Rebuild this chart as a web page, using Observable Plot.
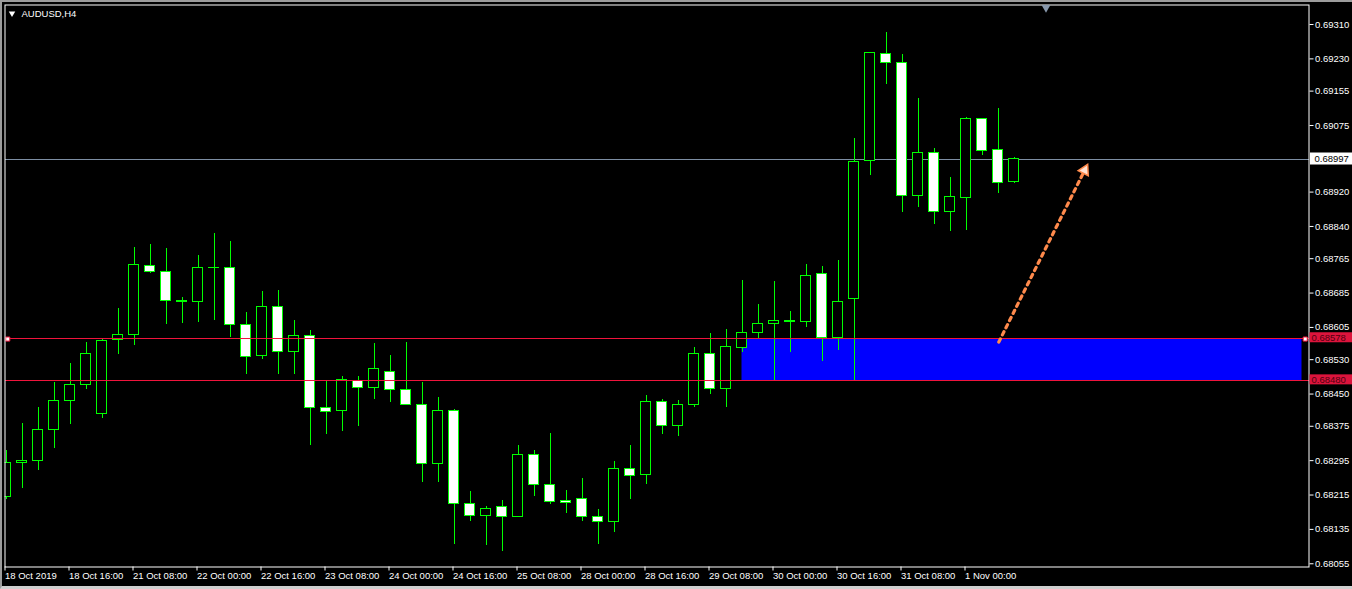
<!DOCTYPE html>
<html><head><meta charset="utf-8">
<script src="https://cdn.jsdelivr.net/npm/d3@7"></script>
<script src="https://cdn.jsdelivr.net/npm/@observablehq/plot@0.6"></script>
<style>
html,body{margin:0;padding:0;background:#000;}
#wrap{position:relative;width:1352px;height:589px;overflow:hidden;background:#000;}
#wrap svg{position:absolute;left:0;top:0;}
#border{position:absolute;left:0;top:0;width:1352px;height:589px;box-sizing:border-box;border-top:2px solid #9c9c9c;border-left:2px solid #9c9c9c;border-bottom:3px solid #cfcfcf;pointer-events:none;}
</style></head><body>
<div id="wrap"><div id="border"></div></div>
<script>
// AUDUSD H4 candles, 18 Oct 2019 00:00 onwards (bar index = position)
const opens = [0.68210,0.68290,0.68295,0.68367,0.68434,0.68472,0.68404,0.68576,0.68588,0.68749,
0.68735,0.68667,0.68665,0.68744,0.68744,0.68611,0.68539,0.68653,0.68548,0.68586,
0.68418,0.68411,0.68481,0.68465,0.68502,0.68460,0.68425,0.68288,0.68411,0.68195,
0.68167,0.68188,0.68164,0.68309,0.68239,0.68202,0.68206,0.68164,0.68153,0.68276,
0.68262,0.68432,0.68376,0.68425,0.68544,0.68462,0.68558,0.68593,0.68614,0.68620,
0.68618,0.68730,0.68580,0.68672,0.68993,0.69242,0.69221,0.68911,0.69011,0.68874,
0.68907,0.69091,0.69018,0.68944];
const highs = [0.68319,0.68381,0.68419,0.68476,0.68521,0.68570,0.68579,0.68649,0.68791,0.68798,
0.68789,0.68675,0.68772,0.68824,0.68805,0.68640,0.68689,0.68691,0.68621,0.68598,
0.68480,0.68491,0.68491,0.68568,0.68540,0.68570,0.68476,0.68442,0.68414,0.68223,
0.68188,0.68202,0.68330,0.68318,0.68358,0.68225,0.68253,0.68181,0.68292,0.68330,
0.68446,0.68437,0.68434,0.68558,0.68590,0.68600,0.68714,0.68658,0.68712,0.68642,
0.68752,0.68747,0.68761,0.69045,0.69245,0.69291,0.69240,0.69138,0.69021,0.68954,
0.69094,0.69091,0.69115,0.69000];
const lows = [0.68204,0.68231,0.68273,0.68324,0.68378,0.68461,0.68394,0.68543,0.68563,0.68731,
0.68613,0.68615,0.68617,0.68620,0.68582,0.68496,0.68531,0.68496,0.68496,0.68331,
0.68357,0.68364,0.68375,0.68438,0.68431,0.68423,0.68243,0.68243,0.68101,0.68154,
0.68098,0.68084,0.68162,0.68211,0.68192,0.68171,0.68153,0.68099,0.68127,0.68205,
0.68239,0.68357,0.68351,0.68418,0.68448,0.68418,0.68547,0.68579,0.68482,0.68547,
0.68606,0.68526,0.68551,0.68482,0.68959,0.69171,0.68873,0.68885,0.68844,0.68828,
0.68831,0.69006,0.68917,0.68939];
const closes = [0.68290,0.68295,0.68367,0.68434,0.68472,0.68544,0.68574,0.68588,0.68751,0.68735,
0.68667,0.68665,0.68744,0.68743,0.68611,0.68537,0.68653,0.68548,0.68586,0.68418,
0.68409,0.68483,0.68465,0.68509,0.68460,0.68425,0.68288,0.68411,0.68195,0.68167,
0.68183,0.68164,0.68309,0.68239,0.68199,0.68197,0.68164,0.68153,0.68276,0.68260,
0.68432,0.68376,0.68425,0.68544,0.68462,0.68560,0.68593,0.68614,0.68621,0.68617,
0.68725,0.68580,0.68665,0.68990,0.69244,0.69221,0.68911,0.69011,0.68874,0.68909,
0.69091,0.69016,0.68942,0.68997];

const xTickBars = [0,4,8,12,16,20,24,28,32,36,40,44,48,52,56,60];
const xTickLabels = ["18 Oct 2019","18 Oct 16:00","21 Oct 08:00","22 Oct 00:00","22 Oct 16:00",
"23 Oct 08:00","24 Oct 00:00","24 Oct 16:00","25 Oct 08:00","28 Oct 00:00","28 Oct 16:00",
"29 Oct 08:00","30 Oct 00:00","30 Oct 16:00","31 Oct 08:00","1 Nov 00:00"];
const yTickLabels = ["0.69310","0.69230","0.69155","0.69075","0.68920","0.68840","0.68765","0.68685",
"0.68605","0.68530","0.68450","0.68375","0.68295","0.68215","0.68135","0.68055"];

const title = "AUDUSD,H4";
const bidPrice = 0.68997;
const levels = [0.68578, 0.68480];
const zone = [{bar1: 46, bar2: 81, low: 0.68480, high: 0.68578}];
const arrowPts = [{bar1: 62.05, p1: 0.68571, bar2: 67.5, p2: 0.68977}];
const selMarkers = [{bar: 0.11, price: 0.68578}, {bar: 81.2, price: 0.68578}];
const shiftBar = 65;

const candles = opens.map((o, i) => ({i, o, h: highs[i], l: lows[i], c: closes[i]}));
const xDomain = [-0.0625, 81.4375];
const yDomain = [0.680475, 0.693554];
const halfBody = 0.3125;
const levelColor = "#f0143c";

const font = "'Liberation Sans', Arial, sans-serif";

const chart = Plot.plot({
  width: 1352, height: 589,
  marginLeft: 4.5, marginRight: 43.5, marginTop: 4.5, marginBottom: 22.5,
  style: {background: "#000", color: "#fff", fontFamily: font, fontSize: "9.5px"},
  x: {type: "linear", domain: xDomain, axis: null},
  y: {type: "linear", domain: yDomain, axis: null},
  marks: [
    Plot.rect(zone, {x1: "bar1", x2: "bar2", y1: "low", y2: "high", fill: "#0000ff"}),
    Plot.ruleY([bidPrice], {stroke: "#7d8ea3", strokeWidth: 1, shapeRendering: "crispEdges"}),
    Plot.ruleX(candles, {x: "i", y1: "l", y2: "h", stroke: "#00ff00", strokeWidth: 1, shapeRendering: "crispEdges", clip: true}),
    Plot.rect(candles, {x1: d => d.i - halfBody, x2: d => d.i + halfBody, y1: "o", y2: "c",
      fill: d => d.c > d.o ? "#000000" : "#ffffff", stroke: "#00ff00", strokeWidth: 1,
      shapeRendering: "crispEdges", clip: true}),
    // horizontal level lines (thin filled bands spanning the frame)
    Plot.rect(levels, {y1: d => d, y2: d => d, fill: levelColor, insetTop: -0.6, insetBottom: -0.6, shapeRendering: "crispEdges"}),
    Plot.dot(selMarkers, {x: "bar", y: "price", symbol: "square", r: 2.3, fill: "#ffffff", stroke: levelColor, strokeWidth: 1}),
    Plot.link(arrowPts, {x1: "bar1", y1: "p1", x2: "bar2", y2: "p2", stroke: "#ff8a4c", strokeWidth: 3.2,
      strokeDasharray: "3.5,4.5", strokeLinecap: "round"}),
    Plot.dot(arrowPts, {x: d => d.bar1 + (d.bar2 - d.bar1) * 0.985, y: d => d.p1 + (d.p2 - d.p1) * 0.985,
      symbol: "triangle", r: 4.2, rotate: 27, fill: "#ffe2d2", stroke: "#ff8a4c", strokeWidth: 1.5}),
    Plot.frame({stroke: "#ffffff", strokeWidth: 1}),
    Plot.dot([shiftBar], {x: d => d, frameAnchor: "top", dy: 2.5, symbol: "triangle", rotate: 180, r: 3.3, fill: "#8797ab"}),
    Plot.axisY({ticks: yTickLabels.map(Number), tickFormat: d => d.toFixed(5), anchor: "right",
      tickSize: 4, tickPadding: 2, stroke: "#ffffff", fill: "#ffffff", fontSize: 9.5}),
    Plot.axisX({ticks: xTickBars, tickFormat: d => xTickLabels[xTickBars.indexOf(d)], anchor: "bottom",
      tickSize: 4, tickPadding: 1.5, textAnchor: "start", dx: -1, stroke: "#ffffff", fill: "#ffffff", fontSize: 9.5}),
    // bid price label
    Plot.rect([bidPrice], {x1: () => xDomain[1], x2: () => xDomain[1], y1: d => d, y2: d => d,
      fill: "#ffffff", insetLeft: 1.5, insetRight: -43.5, insetTop: -6, insetBottom: -6}),
    Plot.text([bidPrice], {x: () => xDomain[1], y: d => d, text: d => d.toFixed(5), fill: "#000000",
      dx: 5.5, textAnchor: "start", fontSize: 9.5}),
    // level price labels
    Plot.rect(levels, {x1: () => xDomain[1], x2: () => xDomain[1], y1: d => d, y2: d => d,
      fill: "#dc143c", insetLeft: 1, insetRight: -43.5, insetTop: -6.3, insetBottom: -3.7}),
    Plot.text(levels, {x: () => xDomain[1], y: d => d, text: d => d.toFixed(5), fill: "#50000f",
      dx: 2.5, dy: -1.2, textAnchor: "start", fontSize: 9.5}),
    Plot.text([title], {frameAnchor: "top-left", dx: 16.5, dy: 4.8, fill: "#ffffff", fontSize: 9.5}),
    Plot.dot([0], {frameAnchor: "top-left", dx: 7, dy: 8.3, symbol: "triangle", rotate: 180, r: 2.4, fill: "#ffffff"})
  ]
});
const wrap = document.getElementById("wrap");
wrap.insertBefore(chart, document.getElementById("border"));
</script>
</body></html>
